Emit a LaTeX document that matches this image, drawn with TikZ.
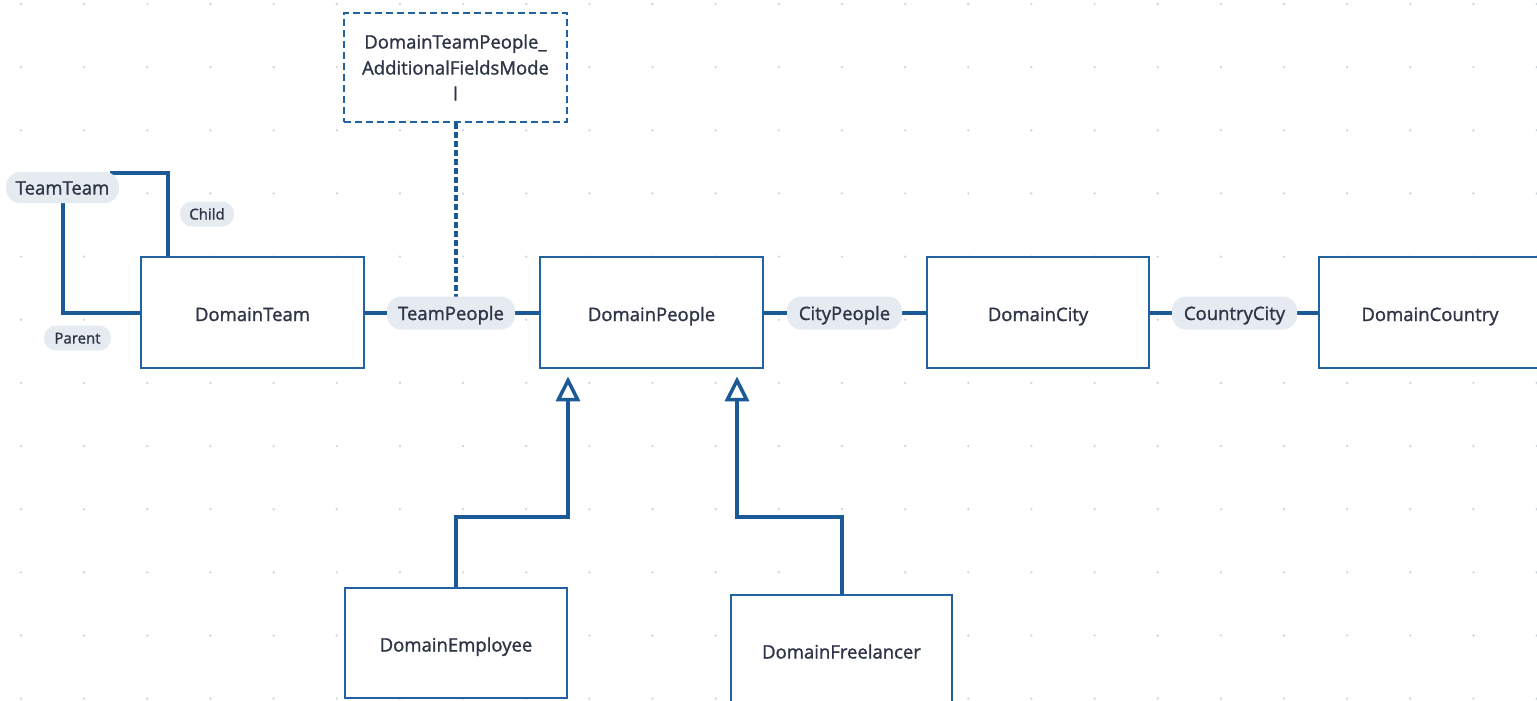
\documentclass[tikz,border=0pt]{standalone}
\usepackage{fontspec}
\setmainfont{Open Sans}[FakeBold=1.3]
\usetikzlibrary{arrows.meta}
\definecolor{edgec}{HTML}{1B5A96}
\definecolor{boxc}{HTML}{2262A0}
\definecolor{pillc}{HTML}{E6EBF2}
\definecolor{textc}{HTML}{2E3547}
\definecolor{dotc}{HTML}{D0D6DE}
\tikzset{
  entity/.style={draw=boxc, line width=2.8pt, fill=white, minimum width=223pt, minimum height=111pt, inner sep=0pt, text=textc, text height=17pt, text depth=0pt, font=\fontsize{18.5}{22}\selectfont},
  viewbox/.style={draw=boxc, fill=white, dash pattern=on 7pt off 4pt, line width=2.2pt, minimum width=223pt, inner sep=0pt, text=textc, align=center, font=\fontsize{18.5}{26}\selectfont},
  pill/.style={fill=pillc, rounded corners=14pt, inner sep=0pt, minimum height=33pt, text=textc, text height=14pt, text depth=0pt, font=\fontsize{18.5}{22}\selectfont},
  rolepill/.style={fill=pillc, rounded corners=12pt, inner sep=0pt, minimum height=25pt, text=textc, text height=11pt, text depth=0pt, font=\fontsize{15}{18}\selectfont},
  conn/.style={draw=edgec, line width=4pt},
  inherit/.style={conn, -{Triangle[open, length=25pt, width=24pt, line width=3.5pt]}},
}
\begin{document}
\begin{tikzpicture}[x=1pt, y=-1pt]
\useasboundingbox (0,0) rectangle (1537,701);
\fill[white] (0,0) rectangle (1537,701);
\begin{scope}
\clip (0,0) rectangle (1537,701);
\foreach \i in {0,...,24} {
  \foreach \j in {0,...,11} {
    \fill[dotc] ({21+\i*63.15},{4+\j*63.15}) circle (1.3pt);
  }
}
% entity boxes
\node[entity] (team) at (252.5,312.5) {DomainTeam};
\node[entity] (people) at (651.5,312.5) {DomainPeople};
\node[entity, minimum width=222pt] (city) at (1038,312.5) {DomainCity};
\node[entity, minimum width=222pt] (country) at (1430,312.5) {DomainCountry};
\node[entity, minimum width=222pt, minimum height=110pt] (employee) at (456,643) {DomainEmployee};
\node[entity, minimum width=221pt, minimum height=110pt] (freelancer) at (841.5,650) {DomainFreelancer};
\node[viewbox, minimum height=109pt] (extra) at (455.5,67.5) {DomainTeamPeople\_\\AdditionalFieldsMode\\l};

% positions
\coordinate (teamteamC) at (62.5,187.5);
\coordinate (childTop) at (168,172.5);
\coordinate (childEnd) at (110,172.5);
\coordinate (empBend) at (568,517);
\coordinate (freeBend) at (737,517);

% connectors
\draw[conn] (childEnd) -- (childTop) -- (childTop |- team.north);
\draw[conn] (teamteamC) |- (team.west);
\draw[conn] (team.east) -- (people.west);
\draw[conn] (people.east) -- (city.west);
\draw[conn] (city.east) -- (country.west);
\draw[conn, dash pattern=on 6pt off 3pt] (extra.south) -- (455.5,298);
\draw[inherit, shorten >=7pt] (employee.north) |- (empBend) -- (empBend |- people.south);
\draw[inherit, shorten >=7pt] (freelancer.north) |- (freeBend) -- (freeBend |- people.south);

% association labels
\node[pill, minimum width=113pt, minimum height=31pt] (teamteam) at (teamteamC) {TeamTeam};
\node[rolepill, minimum width=54pt] (child) at (207,214) {Child};
\node[rolepill, minimum width=67pt] (parent) at (77.5,338) {Parent};
\node[pill, minimum width=128pt] (teampeople) at (451,313) {TeamPeople};
\node[pill, minimum width=115pt] (citypeople) at (844.5,313) {CityPeople};
\node[pill, minimum width=125pt] (countrycity) at (1234.5,313) {CountryCity};
\end{scope}
\end{tikzpicture}
\end{document}
